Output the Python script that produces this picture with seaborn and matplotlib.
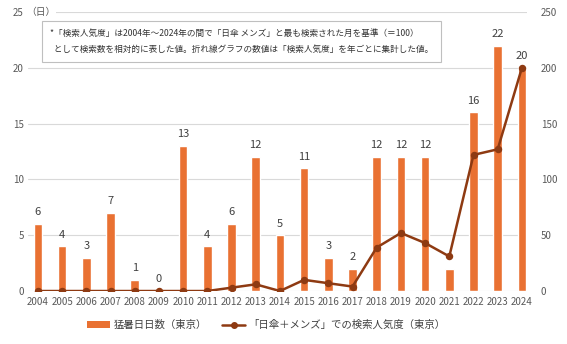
import matplotlib
matplotlib.use("Agg")
import matplotlib.pyplot as plt
import seaborn as sns
import pandas as pd
from matplotlib.lines import Line2D
from matplotlib.patches import Patch

years = [str(y) for y in range(2004, 2025)]
hot_days = [6, 4, 3, 7, 1, 0, 13, 4, 6, 12, 5, 11, 3, 2, 12, 12, 12, 2, 16, 22, 20]
popularity = [0, 0, 0, 0, 0, 0, 0, 0, 3, 6, 0, 10, 7, 4, 39, 52, 43, 31, 122, 127, 200]
left_ticks = [0, 5, 10, 15, 20, 25]
right_ticks = [0, 50, 100, 150, 200, 250]
unit_label = "（日）"
bar_label = "猛暑日日数（東京）"
line_label = "「日傘＋メンズ」での検索人気度（東京）"
note = ("*「検索人気度」は2004年～2024年の間で「日傘 メンズ」と最も検索された月を基準（＝100）\n"
        "  として検索数を相対的に表した値。折れ線グラフの数値は「検索人気度」を年ごとに集計した値。")

sns.set_theme(style="white")
plt.rcParams['font.family'] = ['Noto Sans CJK JP', 'DejaVu Sans']

bar_color = "#E97132"
line_color = "#8E3A12"
text_color = "#595959"

df = pd.DataFrame({"year": years, "days": hot_days, "pop": popularity})

fig = plt.figure(figsize=(5.67, 3.44), dpi=100)
ax = fig.add_axes([0.049, 0.154, 0.88, 0.811])
sns.barplot(data=df, x="year", y="days", color=bar_color, width=0.36,
            saturation=1, ax=ax, zorder=2)
ax.set_ylim(0, 25)
ax.set_xlim(-0.42, 20.2)
ax.set_yticks(left_ticks)
ax.set_yticklabels([str(t) for t in left_ticks])
ax.yaxis.grid(True, color="#d9d9d9", linewidth=0.8, zorder=0)
ax.set_axisbelow(True)
for s in ax.spines.values():
    s.set_visible(False)
ax.set_xlabel("")
ax.set_ylabel("")
ax.tick_params(axis="both", length=0, labelsize=7, colors=text_color, pad=4)
ax.tick_params(axis="y", pad=3)
ax.text(-0.5, 25, unit_label, fontsize=7, color=text_color, va="center", ha="left",
        bbox=dict(facecolor="white", edgecolor="none", pad=0.5))

for i, v in enumerate(hot_days):
    if years[i] == "2021":
        continue
    ax.text(i, v + 0.6, str(v), ha="center", va="bottom", fontsize=8, color="#404040")

ax2 = ax.twinx()
sns.pointplot(data=df, x="year", y="pop", color=line_color, markers="o",
              linestyles="-", ax=ax2, markersize=4, linewidth=1.8)
ax2.set_ylim(0, 250)
ax2.set_xlim(-0.42, 20.2)
ax2.set_yticks(right_ticks)
ax2.set_yticklabels([str(t) for t in right_ticks])
for s in ax2.spines.values():
    s.set_visible(False)
ax2.set_ylabel("")
ax2.set_xlabel("")
ax2.tick_params(axis="y", length=0, labelsize=7, colors=text_color, pad=10)

fig.text(0.088, 0.88, note, fontsize=6.2, color="#333333", va="center", ha="left",
         linespacing=2.0,
         bbox=dict(boxstyle="square,pad=0.9", facecolor="white", edgecolor="#bfbfbf", linewidth=0.8))

handles = [Patch(facecolor=bar_color, edgecolor="none"),
           Line2D([0], [0], color=line_color, marker="o", markersize=4, linewidth=1.8)]
fig.legend(handles, [bar_label, line_label], loc="center", bbox_to_anchor=(0.47, 0.055),
           ncol=2, frameon=False, fontsize=7.5, handlelength=2.2, columnspacing=1.5,
           handletextpad=0.3, labelcolor="#404040")

fig.savefig("out.png", dpi=100)
